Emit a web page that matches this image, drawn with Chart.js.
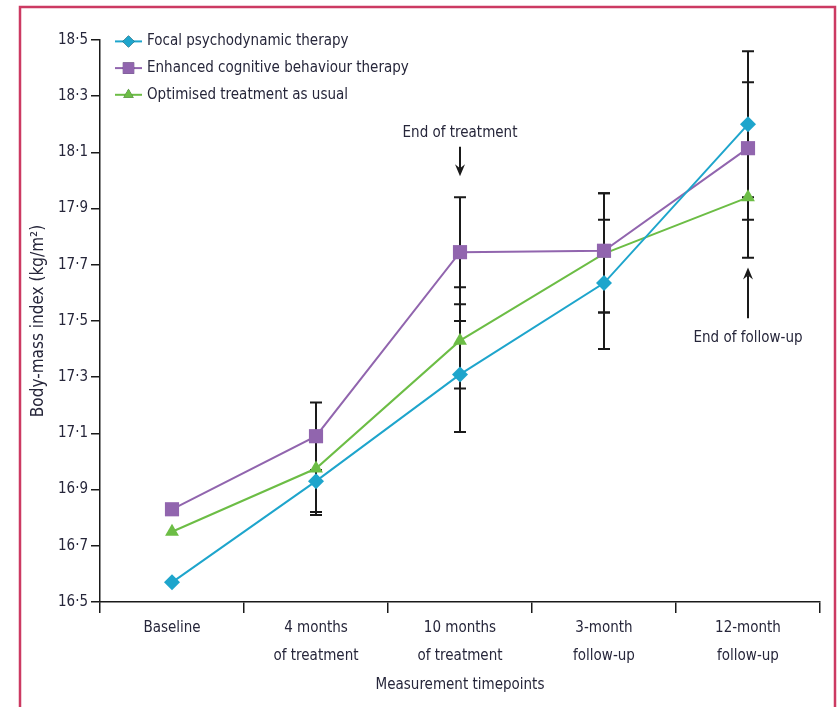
<!DOCTYPE html>
<html>
<head>
<meta charset="utf-8">
<script src="https://cdn.jsdelivr.net/npm/chart.js@4/dist/chart.umd.min.js"></script>
<style>
  html, body { margin: 0; padding: 0; background: #ffffff; }
  #wrap { position: relative; width: 838px; height: 707px; }
  canvas { position: absolute; left: 0; top: 0; }
</style>
</head>
<body>
<div id="wrap"><canvas id="c" width="838" height="707"></canvas></div>
<script>
// ---- data ----
const categories = [["Baseline"], ["4 months", "of treatment"], ["10 months", "of treatment"], ["3-month", "follow-up"], ["12-month", "follow-up"]];
const seriesNames = ["Focal psychodynamic therapy", "Enhanced cognitive behaviour therapy", "Optimised treatment as usual"];
const focalBMI = [16.57, 16.93, 17.31, 17.635, 18.20];
const ecbtBMI = [16.83, 17.09, 17.745, 17.75, 18.115];
const tauBMI = [16.75, 16.975, 17.43, 17.74, 17.94];
const focalLow = [null, 16.81, 17.105, 17.40, 17.94];
const focalHigh = [null, 16.93, 17.50, 17.86, 18.46];
const ecbtLow = [null, 16.97, 17.56, 17.53, 17.86];
const ecbtHigh = [null, 17.21, 17.94, 17.955, 18.35];
const tauLow = [null, 16.82, 17.26, 17.53, 17.725];
const tauHigh = [null, 17.10, 17.62, 17.955, 18.13];
const yTickValues = [16.5, 16.7, 16.9, 17.1, 17.3, 17.5, 17.7, 17.9, 18.1, 18.3, 18.5];
const yTickLabels = ["16·5", "16·7", "16·9", "17·1", "17·3", "17·5", "17·7", "17·9", "18·1", "18·3", "18·5"];
const yAxisTitle = "Body-mass index (kg/m\u00B2)";
const xAxisTitle = "Measurement timepoints";
const annotationTexts = ["End of treatment", "End of follow-up"];

// ---- styles ----
const FONT = "'Liberation Sans Narrow', 'DejaVu Sans Condensed', 'Roboto', sans-serif";
const TEXT = '#26263a';
const COLORS = { focal: '#1ea5cc', ecbt: '#9165ae', tau: '#6cbd45' };

const errorBars = [
  { low: focalLow, high: focalHigh },
  { low: ecbtLow, high: ecbtHigh },
  { low: tauLow, high: tauHigh }
];

const framePlugin = {
  id: 'frame',
  beforeDraw(chart) {
    const ctx = chart.ctx;
    ctx.save();
    ctx.fillStyle = '#ffffff';
    ctx.fillRect(0, 0, chart.width, chart.height);
    ctx.strokeStyle = '#cc3a62';
    ctx.lineWidth = 2.5;
    ctx.beginPath();
    ctx.moveTo(20, chart.height + 5);
    ctx.lineTo(20, 7);
    ctx.lineTo(835, 7);
    ctx.lineTo(835, chart.height + 5);
    ctx.stroke();
    ctx.restore();
  }
};

const errorBarPlugin = {
  id: 'errbars',
  beforeDatasetsDraw(chart) {
    const ctx = chart.ctx;
    const xs = chart.scales.x, ys = chart.scales.y;
    ctx.save();
    ctx.strokeStyle = '#1a1a1a';
    ctx.lineWidth = 2;
    errorBars.forEach(eb => {
      eb.low.forEach((lo, i) => {
        const hi = eb.high[i];
        if (lo == null || hi == null) return;
        const x = xs.getPixelForValue(i);
        const y1 = ys.getPixelForValue(lo), y2 = ys.getPixelForValue(hi);
        ctx.beginPath();
        ctx.moveTo(x, y1); ctx.lineTo(x, y2);
        ctx.moveTo(x - 6, y1); ctx.lineTo(x + 6, y1);
        ctx.moveTo(x - 6, y2); ctx.lineTo(x + 6, y2);
        ctx.stroke();
      });
    });
    ctx.restore();
  }
};

const annotationPlugin = {
  id: 'annots',
  afterDatasetsDraw(chart) {
    const ctx = chart.ctx;
    const xs = chart.scales.x, ys = chart.scales.y;
    ctx.save();
    ctx.font = "15px " + FONT;
    ctx.fillStyle = TEXT;
    ctx.textAlign = 'center';
    ctx.textBaseline = 'middle';
    // End of treatment (down arrow above 10 months)
    let x = xs.getPixelForValue(2);
    ctx.fillText(annotationTexts[0], x, ys.getPixelForValue(18.17));
    drawArrow(ctx, x, ys.getPixelForValue(18.12), ys.getPixelForValue(18.015));
    // End of follow-up (up arrow below 12 months)
    x = xs.getPixelForValue(4);
    drawArrow(ctx, x, ys.getPixelForValue(17.51), ys.getPixelForValue(17.69));
    ctx.fillStyle = TEXT;
    ctx.fillText(annotationTexts[1], x, ys.getPixelForValue(17.44));
    ctx.restore();
  }
};

function drawArrow(ctx, x, yFrom, yTo) {
  const dir = yTo > yFrom ? 1 : -1;
  ctx.save();
  ctx.strokeStyle = '#1a1a1a';
  ctx.fillStyle = '#1a1a1a';
  ctx.lineWidth = 2;
  ctx.beginPath();
  ctx.moveTo(x, yFrom);
  ctx.lineTo(x, yTo - dir * 8);
  ctx.stroke();
  ctx.beginPath();
  ctx.moveTo(x, yTo);
  ctx.lineTo(x - 5, yTo - dir * 12);
  ctx.lineTo(x, yTo - dir * 8);
  ctx.lineTo(x + 5, yTo - dir * 12);
  ctx.closePath();
  ctx.fill();
  ctx.restore();
}

const legendPlugin = {
  id: 'customLegend',
  afterDatasetsDraw(chart) {
    const ctx = chart.ctx;
    const xs = chart.scales.x, ys = chart.scales.y;
    const x0 = xs.left + 15, x1 = xs.left + 42;
    const rowVals = [18.495, 18.40, 18.305];
    ctx.save();
    chart.data.datasets.forEach((ds, i) => {
      const y = ys.getPixelForValue(rowVals[i]);
      ctx.strokeStyle = ds.borderColor;
      ctx.lineWidth = 2;
      ctx.beginPath();
      ctx.moveTo(x0, y); ctx.lineTo(x1, y);
      ctx.stroke();
      Chart.helpers.drawPoint(ctx, {
        pointStyle: ds.pointStyle,
        radius: ds.legendRadius,
        borderWidth: 0
      }, (x0 + x1) / 2, y);
      ctx.fillStyle = ds.pointBackgroundColor;
      ctx.fill();
      ctx.fillStyle = TEXT;
      ctx.font = "15px " + FONT;
      ctx.textAlign = 'left';
      ctx.textBaseline = 'middle';
      ctx.fillText(ds.label, x1 + 5, y);
    });
    ctx.restore();
  }
};

const chart = new Chart(document.getElementById('c'), {
  type: 'line',
  data: {
    labels: categories,
    datasets: [
      {
        label: seriesNames[0], data: focalBMI,
        borderColor: COLORS.focal, backgroundColor: COLORS.focal,
        pointBackgroundColor: COLORS.focal, pointBorderColor: COLORS.focal,
        pointStyle: 'rectRot', pointRadius: 8, pointBorderWidth: 0, legendRadius: 6,
        borderWidth: 2, tension: 0
      },
      {
        label: seriesNames[1], data: ecbtBMI,
        borderColor: COLORS.ecbt, backgroundColor: COLORS.ecbt,
        pointBackgroundColor: COLORS.ecbt, pointBorderColor: COLORS.ecbt,
        pointStyle: 'rect', pointRadius: 10, pointBorderWidth: 0, legendRadius: 8,
        borderWidth: 2, tension: 0
      },
      {
        label: seriesNames[2], data: tauBMI,
        borderColor: COLORS.tau, backgroundColor: COLORS.tau,
        pointBackgroundColor: COLORS.tau, pointBorderColor: COLORS.tau,
        pointStyle: 'triangle', pointRadius: 8, pointBorderWidth: 0, legendRadius: 6,
        borderWidth: 2, tension: 0
      }
    ]
  },
  options: {
    responsive: false,
    animation: false,
    layout: { padding: { left: 0, right: 18, top: 40, bottom: 0 } },
    plugins: { legend: { display: false }, tooltip: { enabled: false } },
    scales: {
      x: {
        type: 'category',
        offset: true,
        grid: { offset: true, drawOnChartArea: false, drawTicks: true, tickLength: 11, color: '#1a1a1a', lineWidth: 1.5 },
        border: { display: true, color: '#1a1a1a', width: 1.5 },
        ticks: { color: TEXT, font: { family: FONT, size: 15, lineHeight: 1.85 }, padding: 1, maxRotation: 0, autoSkip: false },
        title: { display: true, text: xAxisTitle, color: TEXT, font: { family: FONT, size: 15 }, padding: { top: 0, bottom: 13 } },
        afterFit(scale) { scale.height = 105; }
      },
      y: {
        min: 16.5, max: 18.5,
        grid: { drawOnChartArea: false, drawTicks: true, tickLength: 9, color: '#1a1a1a', lineWidth: 1.5 },
        border: { display: true, color: '#1a1a1a', width: 1.5 },
        afterBuildTicks(scale) { scale.ticks = yTickValues.map(v => ({ value: v })); },
        ticks: {
          color: TEXT, font: { family: FONT, size: 15 }, padding: 3,
          callback(value, index) { return yTickLabels[index]; }
        },
        title: { display: true, text: yAxisTitle, color: TEXT, font: { family: FONT, size: 17 }, padding: { top: 28, bottom: 0 } },
        afterFit(scale) { scale.width = 100; }
      }
    }
  },
  plugins: [framePlugin, errorBarPlugin, annotationPlugin, legendPlugin]
});
</script>
</body>
</html>
